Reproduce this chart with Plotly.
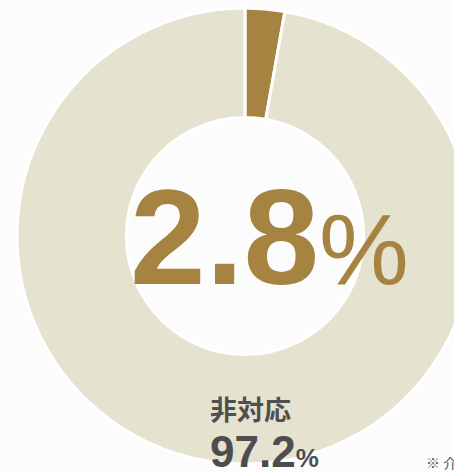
import plotly.graph_objects as go

labels = ["対応", "非対応"]
values = [2.8, 97.2]
colors = ["#a68341", "#e5e2cf"]
main_label = "2.8"
sub_label = "非対応"
sub_value = "97.2"
note = "※ 介護施設"

W, H = 490, 472
BG = "#fcfcfc"

fig = go.Figure(go.Pie(
    labels=labels, values=values, sort=False, direction="clockwise", rotation=0,
    hole=0.52, textinfo="none", hoverinfo="none",
    marker=dict(colors=colors, line=dict(color="#ffffff", width=3)),
    domain=dict(x=[17 / W, 473 / W], y=[8 / H, 464 / H]),
))

fig.add_annotation(
    x=128 / W, y=(H - 315) / H, xref="paper", yref="paper", xanchor="left", yanchor="bottom",
    text=main_label + "<span style='font-size:101px;font-weight:normal'>%</span>",
    showarrow=False,
    font=dict(family="Liberation Sans, Arial", size=136, color="#a68341", weight="bold"),
)
fig.add_annotation(
    x=208 / W, y=(H - 387) / H, xref="paper", yref="paper", xanchor="left", yanchor="top",
    text=sub_label, showarrow=False,
    font=dict(family="Noto Sans CJK JP", size=27, color="#4f4f4f", weight="bold"),
)
fig.add_annotation(
    x=208 / W, y=(H - 425) / H, xref="paper", yref="paper", xanchor="left", yanchor="top",
    text=sub_value + "<span style='font-size:26px'>%</span>", showarrow=False,
    font=dict(family="Liberation Sans, Arial", size=44, color="#4d4d4d", weight="bold"),
)
fig.add_annotation(
    x=424 / W, y=(H - 450) / H, xref="paper", yref="paper", xanchor="left", yanchor="top",
    text=note, showarrow=False,
    font=dict(family="Noto Sans CJK JP", size=14, color="#555555"),
)

fig.update_layout(
    width=W, height=H, margin=dict(l=0, r=0, t=0, b=0),
    paper_bgcolor=BG, plot_bgcolor=BG, showlegend=False,
)

fig.write_html("out.html", config={"displayModeBar": False, "staticPlot": True},
               post_script="document.body.style.margin='0';document.body.style.overflow='hidden';document.documentElement.style.overflow='hidden';")
